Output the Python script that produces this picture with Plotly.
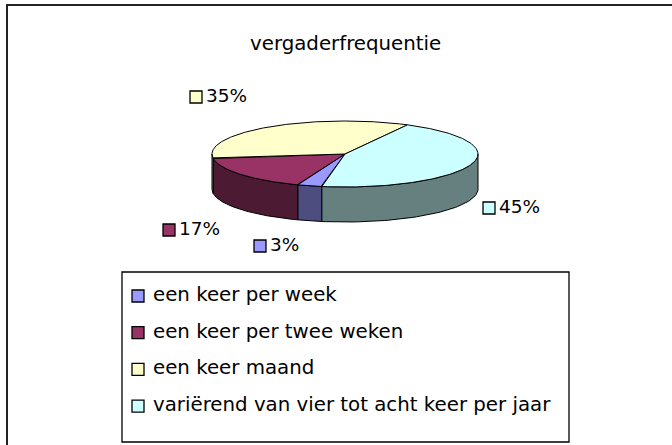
import numpy as np
import plotly.graph_objects as go

# ---- data ----
categories = ["een keer per week", "een keer per twee weken",
              "een keer maand", "variërend van vier tot acht keer per jaar"]
values = [3, 17, 35, 45]
percent_labels = ["3%", "17%", "35%", "45%"]
title_text = "vergaderfrequentie"

# ---- style ----
top_colors = ["#9999FF", "#993366", "#FFFFCC", "#CCFFFF"]
side_colors = ["#4D4D80", "#4D1A33", "#808066", "#668080"]
FONT = "DejaVu Sans"

# ---- geometry (pixel layout) ----
W, H = 672, 445
CX, CY, RX, RY, DEPTH = 345, 154, 133, 33, 35
START = 190.0  # degrees clockwise from 12 o'clock

# label anchors (square centre) placed like the original
label_pos = [(260, 246), (169, 230), (196, 97), (489, 208)]
leg_x, leg_y0, leg_dy = 138, 296, 36.7


def pt(theta_deg, dy=0.0):
    t = np.radians(theta_deg)
    return CX + RX * np.sin(t), CY - RY * np.cos(t) + dy


fig = go.Figure()

total = float(sum(values))
angles = [START]
for v in values:
    angles.append(angles[-1] + 360.0 * v / total)

# side walls (front half only)
for i in range(len(values)):
    a, b = angles[i], angles[i + 1]
    for k in (-360, 0, 360):
        lo, hi = max(a, 90 + k), min(b, 270 + k)
        if lo < hi:
            th = np.linspace(lo, hi, 60)
            x1, y1 = pt(th)
            x2, y2 = pt(th[::-1], DEPTH)
            xs = np.concatenate([x1, x2, x1[:1]])
            ys = np.concatenate([y1, y2, y1[:1]])
            fig.add_trace(go.Scatter(x=xs, y=ys, mode="lines", fill="toself",
                                     fillcolor=side_colors[i],
                                     line=dict(color="black", width=1),
                                     hoverinfo="skip", showlegend=False))

# top faces
for i in range(len(values)):
    a, b = angles[i], angles[i + 1]
    th = np.linspace(a, b, 200)
    x, y = pt(th)
    xs = np.concatenate([[CX], x, [CX]])
    ys = np.concatenate([[CY], y, [CY]])
    fig.add_trace(go.Scatter(x=xs, y=ys, mode="lines", fill="toself",
                             fillcolor=top_colors[i],
                             line=dict(color="black", width=1),
                             name=categories[i], hoverinfo="skip",
                             showlegend=False))

# percentage labels with colour keys
lx = [p[0] for p in label_pos]
ly = [p[1] for p in label_pos]
fig.add_trace(go.Scatter(x=lx, y=ly, mode="markers",
                         marker=dict(symbol="square", size=12, color=top_colors,
                                     line=dict(color="black", width=1.3)),
                         hoverinfo="skip", showlegend=False))
fig.add_trace(go.Scatter(x=[v + 10 for v in lx], y=ly, mode="text",
                         text=percent_labels, textposition="middle right",
                         textfont=dict(family=FONT, size=18.5, color="black"),
                         hoverinfo="skip", showlegend=False))

# legend (drawn in-plot)
ry_leg = [leg_y0 + i * leg_dy for i in range(len(categories))]
fig.add_trace(go.Scatter(x=[leg_x] * len(categories), y=ry_leg, mode="markers",
                         marker=dict(symbol="square", size=12, color=top_colors,
                                     line=dict(color="black", width=1.3)),
                         hoverinfo="skip", showlegend=False))
fig.add_trace(go.Scatter(x=[leg_x + 15] * len(categories), y=ry_leg, mode="text",
                         text=categories, textposition="middle right",
                         textfont=dict(family=FONT, size=19.8, color="black"),
                         hoverinfo="skip", showlegend=False))

fig.update_layout(
    width=W, height=H,
    margin=dict(l=0, r=0, t=0, b=0),
    paper_bgcolor="white", plot_bgcolor="white",
    xaxis=dict(range=[0, W], visible=False, fixedrange=True),
    yaxis=dict(range=[H, 0], visible=False, fixedrange=True),
    shapes=[
        dict(type="rect", xref="x", yref="y", x0=7, y0=5, x1=W + 40, y1=H + 40,
             line=dict(color="#222222", width=2)),
        dict(type="rect", xref="x", yref="y", x0=122, y0=272, x1=569, y1=442,
             line=dict(color="black", width=1.3)),
    ],
    annotations=[
        dict(x=345, y=43, xref="x", yref="y", text=title_text, showarrow=False,
             font=dict(family=FONT, size=19.8, color="black"),
             xanchor="center", yanchor="middle"),
    ],
    showlegend=False,
)

fig.write_html("out.html",
               config={"displayModeBar": False, "staticPlot": True},
               post_script="document.body.style.margin='0';document.body.style.padding='0';")
